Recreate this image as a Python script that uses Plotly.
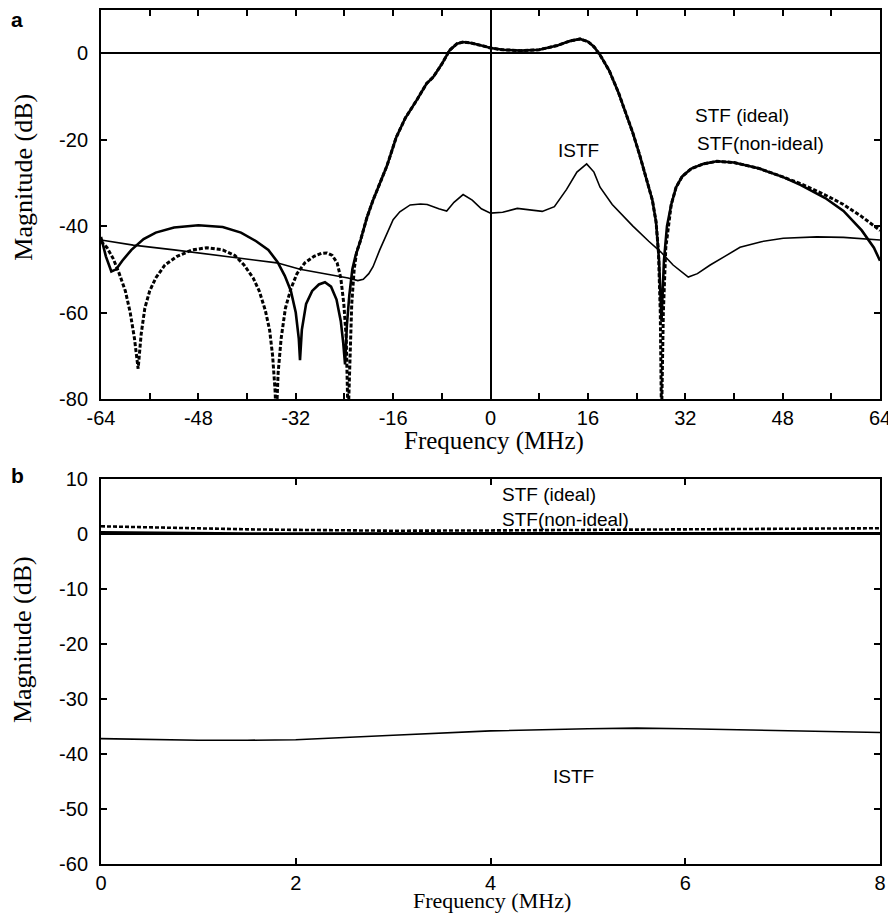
import plotly.graph_objects as go

# ---------------- Panel a data (Frequency MHz, Magnitude dB) ----------------
freq_stf_ideal = [-64, -63.2, -62.3, -61.5, -60.5, -59, -57, -55, -52, -48, -44, -41, -38.5, -36.5,
                  -35, -33.8, -32.8, -32, -31.5, -31.3, -31, -30.3, -29.3, -28.2, -27.2, -26.2, -25.3,
                  -24.6, -24.2, -23.9, -23.6, -23.2, -22.7, -22.2, -21.4, -20.3, -19.3, -18, -17, -15.5,
                  -14, -12.1, -10.5, -9.4, -8, -6.7, -5.5, -4.5, -3, -1, 0, 2, 5, 8, 11, 13, 14.7, 16,
                  17, 18, 19.5, 21, 22.3, 23.4, 24.5, 25.6, 26.6, 27.2, 27.7, 28.1, 28.5, 29, 29.7, 30.5,
                  31.5, 33, 35, 37.2, 40, 44, 48, 51, 55, 58, 61, 63, 64]
mag_stf_ideal = [-42.5, -47, -50.5, -50, -48, -45.5, -43, -41.5, -40.3, -39.8, -40.2, -41.5, -43.5, -45.5,
                 -48.3, -51.5, -55, -60, -66, -71, -64, -58, -55, -53.5, -53, -54, -57,
                 -62, -67, -72, -63, -56, -50, -47, -43.5, -38, -34, -29.5, -26, -19.5,
                 -15, -10.8, -7, -5.5, -2.5, 0.7, 2.2, 2.6, 2.3, 1.6, 1.2, 0.8, 0.6, 0.8, 1.8, 2.8, 3.3, 2.7,
                 1.5, -0.4, -4, -9, -14, -18.5, -23.5, -29, -34, -39, -48, -62, -48, -40, -35, -31,
                 -28.5, -26.7, -25.6, -25, -25.3, -26.6, -28.6, -30.5, -33.5, -36.5, -41, -45, -48]

freq_stf_nonideal = [-64, -63, -62, -61, -60, -59.2, -58.5, -57.9, -57.4, -56.8, -56, -55, -53.5, -51.5,
                     -49, -46.6, -44, -42, -40.5, -39, -38, -37, -36.3, -35.8, -35.4, -35.2, -34.9, -34.4,
                     -33.7, -32.8, -31.8, -30.5, -29, -27.8, -26.9, -26, -25.2, -24.6, -24.1, -23.7, -23.4,
                     -23.1, -22.8, -22.4, -22, -21.4, -20.3, -19.3, -18, -17, -15.5, -14, -12.1, -10.5,
                     -9.4, -8, -6.7, -5.5, -4.5, -3, -1, 0, 2, 5, 8, 11, 13, 14.7, 16, 17, 18, 19.5, 21,
                     22.3, 23.4, 24.5, 25.6, 26.6, 27.2, 27.6, 27.9, 28.1, 28.4, 28.8, 29.7, 30.5, 31.5,
                     33, 35, 37.2, 40, 44, 48, 51, 55, 58, 61, 64]
mag_stf_nonideal = [-43.5, -45, -47.5, -51, -55, -60, -66, -73, -65, -59, -55, -52, -49, -47,
                    -45.5, -45, -45.5, -46.8, -49, -52, -55, -59.5, -64, -70, -78, -85, -74, -66,
                    -59, -54.5, -51, -48.5, -47, -46.3, -46.2, -46.8, -48.5, -52, -58, -66, -85,
                    -70, -58, -50, -46, -43.5, -38, -34, -29.5, -26, -19.5, -15, -10.8, -7,
                    -5.5, -2.5, 0.7, 2.2, 2.6, 2.3, 1.6, 1.2, 0.8, 0.6, 0.8, 1.8, 2.8, 3.3, 2.7, 1.5, -0.4, -4, -9,
                    -14, -18.5, -23.5, -29, -34, -39, -46, -60, -85, -60, -45, -35, -31, -28.5,
                    -26.7, -25.6, -25, -25.3, -26.6, -28.6, -30.2, -32.8, -35, -37.8, -41]

freq_istf = [-64, -58.7, -52, -47.7, -42, -35.1, -31.3, -27, -23.4, -21.8, -20.9, -20, -19.3, -18.2,
             -17, -16, -14.9, -13.2, -11.5, -10.4, -8.5, -7.2, -6, -4.5, -3, -1.5, 0, 2, 4.4, 6.5,
             8.5, 10.5, 12.5, 14.2, 15.8, 17, 18, 20, 23.4, 26, 28, 30, 32.5, 34, 36.1, 38.5, 41,
             44.5, 48.1, 53.6, 58, 64]
mag_istf = [-43.2, -44.4, -45.5, -46.3, -47.2, -48.5, -50, -51, -52, -52.6, -52.3, -51, -49.4, -45.5,
            -41.7, -38.5, -36.7, -35.1, -34.9, -35, -36, -36.5, -34.5, -32.7, -34, -36, -37, -36.8, -35.9, -36.3,
            -36.6, -35.5, -31.5, -27.5, -25.6, -27.5, -31, -35, -40, -43.5, -46, -49, -51.8, -51, -49, -47, -44.9,
            -43.6, -42.8, -42.5, -42.6, -43.2]

# ---------------- Panel b data ----------------
freq_b = [0, 0.5, 1, 1.5, 2, 3, 4, 5, 5.5, 6, 7, 8]
mag_b_stf_ideal = [0.3, 0.2, 0.15, 0.1, 0.1, 0.1, 0.1, 0.1, 0.1, 0.1, 0.1, 0.15]
mag_b_stf_nonideal = [1.4, 1.2, 1.0, 0.85, 0.75, 0.6, 0.65, 0.75, 0.8, 0.8, 0.9, 1.05]
mag_b_istf = [-37.2, -37.4, -37.5, -37.5, -37.4, -36.6, -35.8, -35.4, -35.3, -35.4, -35.8, -36.1]

# tick definitions (hyphen-minus labels as in the original)
a_xticks = list(range(-64, 65, 8))
a_xlabels = [str(v) if v % 16 == 0 else "" for v in a_xticks]
a_yticks = [10, 0, -20, -40, -60, -80]
a_ylabels = [str(v) for v in a_yticks]
b_xticks = [0, 2, 4, 6, 8]
b_xlabels = [str(v) for v in b_xticks]
b_yticks = [10, 0, -10, -20, -30, -40, -50, -60]
b_ylabels = [str(v) for v in b_yticks]

TICKFONT = dict(family="Liberation Sans, Arial, sans-serif", size=20, color="black")
XTITLEFONT = dict(family="Liberation Serif, Times New Roman, serif", size=25, color="black")
XTITLEFONT_B = dict(family="Liberation Serif, Times New Roman, serif", size=22, color="black")
YTITLEFONT = dict(family="Liberation Serif, Times New Roman, serif", size=26, color="black")
ANNFONT = dict(family="Liberation Sans, Arial, sans-serif", size=19, color="black")
PANELFONT = dict(family="Liberation Sans, Arial, sans-serif", size=21, color="black")

fig = go.Figure()

# panel a traces
fig.add_trace(go.Scatter(x=freq_istf, y=mag_istf, mode="lines", name="ISTF",
                         line=dict(color="black", width=1.6), xaxis="x", yaxis="y"))
fig.add_trace(go.Scatter(x=freq_stf_ideal, y=mag_stf_ideal, mode="lines", name="STF (ideal)",
                         line=dict(color="black", width=2.6), xaxis="x", yaxis="y"))
fig.add_trace(go.Scatter(x=freq_stf_nonideal, y=mag_stf_nonideal, mode="lines", name="STF(non-ideal)",
                         line=dict(color="black", width=3, dash="4px,2px"), xaxis="x", yaxis="y"))

# panel b traces
fig.add_trace(go.Scatter(x=freq_b, y=mag_b_istf, mode="lines", name="ISTF",
                         line=dict(color="black", width=1.6), xaxis="x2", yaxis="y2"))
fig.add_trace(go.Scatter(x=freq_b, y=mag_b_stf_ideal, mode="lines", name="STF (ideal)",
                         line=dict(color="black", width=2.6), xaxis="x2", yaxis="y2"))
fig.add_trace(go.Scatter(x=freq_b, y=mag_b_stf_nonideal, mode="lines", name="STF(non-ideal)",
                         line=dict(color="black", width=2.6, dash="4px,2px"), xaxis="x2", yaxis="y2"))

axis_common = dict(showline=True, linecolor="black", linewidth=2, mirror="ticks",
                   ticks="inside", ticklen=6, tickwidth=2, tickcolor="black",
                   showgrid=False, tickfont=TICKFONT, fixedrange=True, tickmode="array")

# page has an 8px body margin: figure is sized so the page does not scroll
fig.update_layout(
    width=888, height=907,
    margin=dict(l=93, r=16, t=2, b=51, autoexpand=False),
    paper_bgcolor="white", plot_bgcolor="white",
    showlegend=False,
    xaxis=dict(domain=[0, 1], anchor="y", range=[-64, 64],
               tickvals=a_xticks, ticktext=a_xlabels, ticklabelstandoff=0,
               zeroline=True, zerolinecolor="black", zerolinewidth=2, **axis_common),
    yaxis=dict(domain=[0.5445, 1], anchor="x", range=[-80, 10],
               tickvals=a_yticks, ticktext=a_ylabels, ticklabelstandoff=7,
               zeroline=True, zerolinecolor="black", zerolinewidth=2, **axis_common),
    xaxis2=dict(domain=[0, 1], anchor="y2", range=[0, 8],
                tickvals=b_xticks, ticktext=b_xlabels, ticklabelstandoff=0, zeroline=False, **axis_common),
    yaxis2=dict(domain=[0, 0.4508], anchor="x2", range=[-60, 10],
                tickvals=b_yticks, ticktext=b_ylabels, ticklabelstandoff=7,
                zeroline=True, zerolinecolor="black", zerolinewidth=2, **axis_common),
)

annotations = [
    # axis titles
    dict(text="Frequency (MHz)", xref="paper", yref="paper", x=0.5045, y=0.4953,
         showarrow=False, font=XTITLEFONT, xanchor="center", yanchor="middle"),
    dict(text="Frequency (MHz)", xref="paper", yref="paper", x=0.502, y=-0.0433,
         showarrow=False, font=XTITLEFONT_B, xanchor="center", yanchor="middle"),
    dict(text="Magnitude (dB)", xref="paper", yref="paper", x=-0.1, y=0.8038, textangle=-90,
         showarrow=False, font=YTITLEFONT, xanchor="center", yanchor="middle"),
    dict(text="Magnitude (dB)", xref="paper", yref="paper", x=-0.1, y=0.2623, textangle=-90,
         showarrow=False, font=YTITLEFONT, xanchor="center", yanchor="middle"),
    # panel labels
    dict(text="<b>a</b>", xref="paper", yref="paper", x=-0.108, y=0.9883, showarrow=False,
         font=PANELFONT, xanchor="center", yanchor="middle"),
    dict(text="<b>b</b>", xref="paper", yref="paper", x=-0.107, y=0.4555, showarrow=False,
         font=PANELFONT, xanchor="center", yanchor="middle"),
    # curve labels panel a
    dict(text="ISTF", xref="x", yref="y", x=14.5, y=-22.6, showarrow=False, font=ANNFONT,
         xanchor="center", yanchor="middle"),
    dict(text="STF (ideal)", xref="x", yref="y", x=33.3, y=-14.3, showarrow=False, font=ANNFONT,
         xanchor="left", yanchor="middle"),
    dict(text="STF(non-ideal)", xref="x", yref="y", x=33.6, y=-21, showarrow=False, font=ANNFONT,
         xanchor="left", yanchor="middle"),
    # curve labels panel b
    dict(text="STF (ideal)", xref="x2", yref="y2", x=4.1, y=7.1, showarrow=False, font=ANNFONT,
         xanchor="left", yanchor="middle"),
    dict(text="STF(non-ideal)", xref="x2", yref="y2", x=4.1, y=2.6, showarrow=False, font=ANNFONT,
         xanchor="left", yanchor="middle"),
    dict(text="ISTF", xref="x2", yref="y2", x=4.85, y=-44.1, showarrow=False, font=ANNFONT,
         xanchor="center", yanchor="middle"),
]
fig.update_layout(annotations=annotations)

fig.write_html("out.html")
